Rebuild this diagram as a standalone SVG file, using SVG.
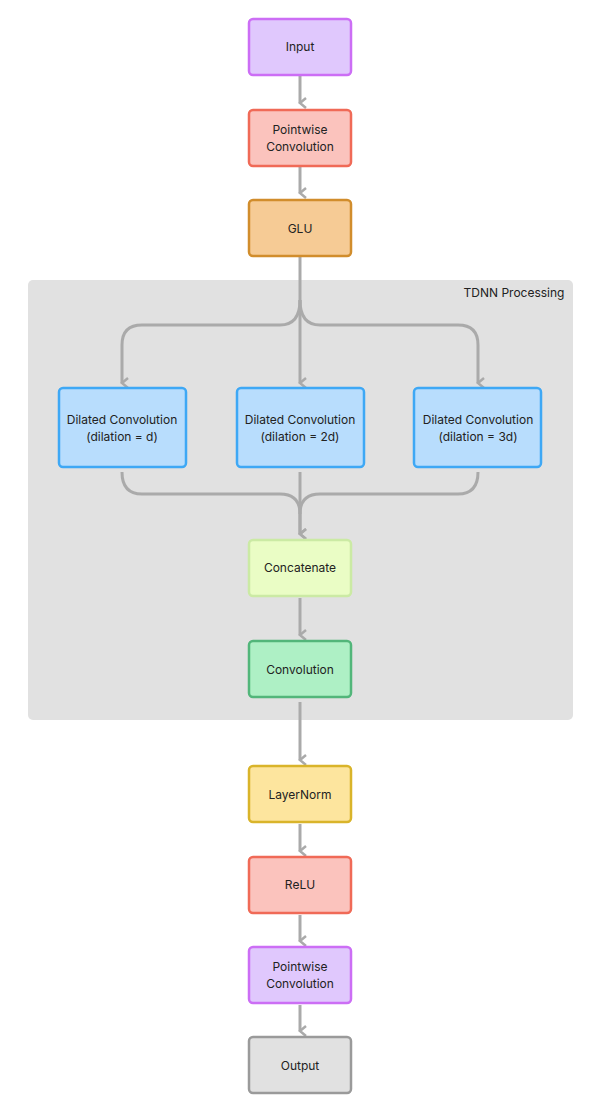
<svg xmlns="http://www.w3.org/2000/svg" width="605" height="1110" viewBox="0 0 605 1110">
<style>
.n{stroke-width:2.5}
text{font-family:Inter,"Liberation Sans",sans-serif;font-size:12px;fill:#222;text-anchor:middle}
.c{fill:none;stroke:#aaaaaa;stroke-width:3}
</style>
<defs><marker id="a" viewBox="0 0 12 12" refX="6" refY="10" markerWidth="12" markerHeight="12" markerUnits="userSpaceOnUse" orient="auto-start-reverse"><path d="M1,4 L6,10 L11,4" fill="none" stroke="#aaaaaa" stroke-width="2.5"/></marker></defs>
<rect id="group" x="28" y="280" width="545" height="440" rx="5" fill="#e1e1e1"/>
<text x="514" y="297">TDNN Processing</text>
<g id="connectors">
<path class="c" d="M300,76 V103" marker-end="url(#a)"/>
<path class="c" d="M300,167 V193" marker-end="url(#a)"/>
<path class="c" d="M300,257 V383" marker-end="url(#a)"/>
<path class="c" d="M300,300 Q300,325 280,325 H142 Q122,325 122,345 V383" marker-end="url(#a)"/>
<path class="c" d="M300,300 Q300,325 320,325 H458 Q478,325 478,345 V383" marker-end="url(#a)"/>
<path class="c" d="M122,472 Q122,494 142,494 H280 Q300,494 300,514 V534" marker-end="url(#a)"/>
<path class="c" d="M300,472 V534" marker-end="url(#a)"/>
<path class="c" d="M478,472 Q478,494 458,494 H320 Q300,494 300,514" />
<path class="c" d="M300,598 V635" marker-end="url(#a)"/>
<path class="c" d="M300,702 V760" marker-end="url(#a)"/>
<path class="c" d="M300,824 V851" marker-end="url(#a)"/>
<path class="c" d="M300,915 V941" marker-end="url(#a)"/>
<path class="c" d="M300,1005 V1031" marker-end="url(#a)"/>
</g>
<g id="input"><rect class="n" x="249" y="19" width="102" height="56" rx="4" fill="#e0c8fd" stroke="#cc6ef5"/><text x="300" y="51">Input</text></g>
<g id="pw1"><rect class="n" x="249" y="110" width="102" height="56" rx="4" fill="#fbc3bd" stroke="#f06a57"/><text x="300" y="134">Pointwise</text><text x="300" y="151">Convolution</text></g>
<g id="glu"><rect class="n" x="249" y="200" width="102" height="56" rx="4" fill="#f6cb95" stroke="#d18d2c"/><text x="300" y="233">GLU</text></g>
<g id="d1"><rect class="n" x="59" y="388" width="127" height="79" rx="4" fill="#b8ddfd" stroke="#3ea8f5"/><text x="122" y="424">Dilated Convolution</text><text x="122" y="441">(dilation = d)</text></g>
<g id="d2"><rect class="n" x="237" y="388" width="127" height="79" rx="4" fill="#b8ddfd" stroke="#3ea8f5"/><text x="300" y="424">Dilated Convolution</text><text x="300" y="441">(dilation = 2d)</text></g>
<g id="d3"><rect class="n" x="414" y="388" width="127" height="79" rx="4" fill="#b8ddfd" stroke="#3ea8f5"/><text x="478" y="424">Dilated Convolution</text><text x="478" y="441">(dilation = 3d)</text></g>
<g id="concat"><rect class="n" x="249" y="540" width="102" height="56" rx="4" fill="#eafdc5" stroke="#cbeaa4"/><text x="300" y="572">Concatenate</text></g>
<g id="conv"><rect class="n" x="249" y="641" width="102" height="56" rx="4" fill="#aef0c5" stroke="#52b67a"/><text x="300" y="674">Convolution</text></g>
<g id="ln"><rect class="n" x="249" y="766" width="102" height="56" rx="4" fill="#fde59e" stroke="#d9b42a"/><text x="300" y="799">LayerNorm</text></g>
<g id="relu"><rect class="n" x="249" y="857" width="102" height="56" rx="4" fill="#fbc3bd" stroke="#f06a57"/><text x="300" y="889">ReLU</text></g>
<g id="pw2"><rect class="n" x="249" y="947" width="102" height="56" rx="4" fill="#e0c8fd" stroke="#cc6ef5"/><text x="300" y="971">Pointwise</text><text x="300" y="988">Convolution</text></g>
<g id="output"><rect class="n" x="249" y="1037" width="102" height="56" rx="4" fill="#e1e1e1" stroke="#9a9a9a"/><text x="300" y="1070">Output</text></g>
</svg>
